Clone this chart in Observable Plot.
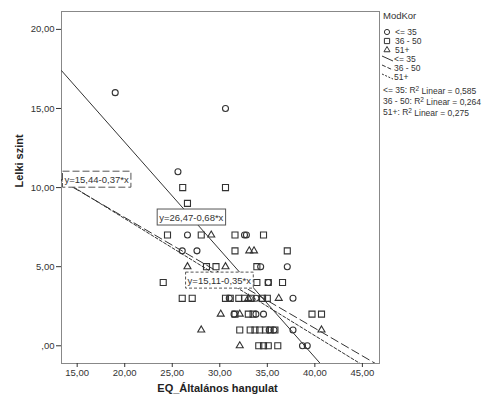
<!DOCTYPE html>
<html><head><meta charset="utf-8">
<script src="https://cdn.jsdelivr.net/npm/d3@7"></script>
<script src="https://cdn.jsdelivr.net/npm/@observablehq/plot@0.6"></script>
<style>
body{margin:0;background:#fff;}
#chart{position:relative;width:495px;height:399px;}
svg{font-family:"Liberation Sans",Arial,sans-serif;}
</style>
</head><body><div id="chart"></div>
<script>
// ---- data ----
const groups = ["<= 35", "36 - 50", "51+"];
const xTitle = "EQ_Általános hangulat";
const yTitle = "Lelki szint";
const legendTitle = "ModKor";

// <= 35 (circles)
const le35X = [19.0, 30.6, 25.6, 26.6, 32.6, 32.8, 26.05, 27.6, 34.3, 37.1, 35.1, 31.0, 33.8, 37.7, 31.5, 33.8, 34.6, 35.2, 35.7, 37.7, 38.7, 39.2];
const le35Y = [16, 15, 11, 7, 7, 7, 6, 6, 5, 5, 4, 3, 3, 3, 2, 2, 2, 1, 1, 1, 0, 0];
// 36 - 50 (squares)
const m36X = [26.6, 26.1, 30.6, 24.5, 28.05, 31.6, 34.6, 31.6, 37.1, 28.6, 29.6, 33.9, 24.05, 33.9, 35.1, 36.6, 26.05, 27.1, 30.6, 31.1, 32.0, 32.6, 33.3, 34.5, 35.0, 31.6, 33.0, 33.5, 39.7, 40.7, 32.1, 33.2, 33.7, 34.2, 34.8, 35.3, 35.8, 34.1, 34.6, 35.1, 36.1];
const m36Y = [9, 10, 10, 7, 7, 7, 7, 6, 6, 5, 5, 5, 4, 4, 4, 4, 3, 3, 3, 3, 3, 3, 3, 3, 3, 2, 2, 2, 2, 2, 1, 1, 1, 1, 1, 1, 1, 0, 0, 0, 0];
// 51+ (triangles)
const p51X = [29.1, 33.1, 33.6, 26.6, 30.6, 33.0, 36.2, 30.1, 32.1, 28.05, 40.7, 32.1];
const p51Y = [7, 6, 6, 5, 5, 3, 3, 2, 2, 1, 1, 0];

// linear fits per group
const fitGroups = ["<= 35", "36 - 50", "51+"];
const fitIntercepts = [26.47, 15.11, 15.44];
const fitSlopes = [-0.68, -0.35, -0.37];
const fitLabels = ["y=26,47-0,68*x", "y=15,11-0,35*x", "y=15,44-0,37*x"];
const r2Values = ["0,585", "0,264", "0,275"];

const xTicks = [15, 20, 25, 30, 35, 40, 45];
const yTicks = [0, 5, 10, 15, 20];

// ---- build tables ----
const groupX = [le35X, m36X, p51X];
const groupY = [le35Y, m36Y, p51Y];
const pointsBy = groups.map((g, k) => groupX[k].map((x, i) => ({x, y: groupY[k][i], g})));
const xDomain = [13.35, 46.8];
const yDomain = [-1.12, 21.13];
const fitRows = fitGroups.map((g, i) => xDomain.map(x => ({g, x, y: fitIntercepts[i] + fitSlopes[i] * x})));

const fmt = d => d === 0 ? ",00" : d.toFixed(2).replace(".", ",");
const dash = ["none", "8,4", "3,2"];
const ink = "#333";
const symR = [3.0, 3.4, 2.6];

// label placement (layout)
const labelPos = [
  {i: 0, x: 27.0, anchor: "middle", dx: 0, dy: 0, box: "none"},
  {i: 1, x: 29.95, anchor: "middle", dx: 0, dy: 8, box: "3,2"},
  {i: 2, x: 13.35, anchor: "start", dx: 3, dy: 0, box: "7,3"}
];

const marks = [
  Plot.frame({stroke: "#888"}),
  Plot.axisY(yTicks, {tickFormat: fmt, tickSize: 5, tickPadding: 2, fontSize: 9.5, fill: ink, stroke: ink, label: null}),
  Plot.axisX(xTicks, {tickFormat: fmt, tickSize: 4, tickPadding: 2, fontSize: 9.5, fill: ink, stroke: ink, label: null}),
  ...pointsBy.map((pts, k) => Plot.dot(pts, {x: "x", y: "y", symbol: "g", r: symR[k], stroke: ink, strokeWidth: 1.1, fill: "none"})),
  ...fitRows.map((rows, i) => Plot.line(rows, {x: "x", y: "y", stroke: ink, strokeWidth: 1, strokeDasharray: dash[i], clip: true})),
  ...labelPos.map(p => Plot.text([fitLabels[p.i]], {
    x: () => p.x,
    y: () => fitIntercepts[p.i] + fitSlopes[p.i] * p.x,
    text: d => d, textAnchor: p.anchor, dx: p.dx, dy: p.dy,
    fontSize: 9.5, fill: ink
  })),
  Plot.text([xTitle], {frameAnchor: "bottom", dy: 28, dx: -3, text: d => d, fontSize: 11, fontWeight: "bold", fill: "#222"}),
  Plot.text([yTitle], {frameAnchor: "left", dx: -42, rotate: -90, text: d => d, fontSize: 11, fontWeight: "bold", fill: "#222"})
];

const chart = Plot.plot({
  width: 495, height: 399,
  marginLeft: 61, marginRight: 116, marginTop: 11, marginBottom: 36,
  x: {domain: xDomain},
  y: {domain: yDomain},
  symbol: {domain: groups, range: ["circle", "square", "triangle"]},
  style: {fontFamily: "Liberation Sans, Arial, sans-serif", background: "#fff"},
  marks
});
document.getElementById("chart").appendChild(chart);
const svg = d3.select(chart);

// boxes behind fit labels
svg.selectAll("text").each(function() {
  const idx = fitLabels.indexOf(this.textContent);
  if (idx < 0) return;
  const p = labelPos.find(q => q.i === idx);
  const b = this.getBBox();
  d3.select(this.parentNode).insert("rect", () => this)
    .attr("x", b.x - 2).attr("y", b.y - 2.5)
    .attr("width", b.width + 4).attr("height", b.height + 5)
    .attr("transform", this.getAttribute("transform"))
    .attr("fill", "#fff").attr("stroke", "#555").attr("stroke-width", 1)
    .attr("stroke-dasharray", p.box);
});

// legend
const lg = svg.append("g").attr("font-size", 8.5).attr("fill", ink).attr("text-anchor", "start");
const lx = 385;
lg.append("text").attr("x", lx - 2).attr("y", 16).attr("dy", "0.35em").attr("font-size", 9.5).text(legendTitle);
const sym = [d3.symbolCircle, d3.symbolSquare, d3.symbolTriangle];
groups.forEach((g, i) => {
  const y = 32 + i * 9;
  lg.append("path").attr("d", d3.symbol(sym[i], Math.PI * symR[i] * symR[i] * 0.75)())
    .attr("transform", `translate(${lx + 2},${y})`).attr("fill", "none").attr("stroke", ink);
  lg.append("text").attr("x", lx + 10).attr("y", y).attr("dy", "0.35em").text(g);
});
groups.forEach((g, i) => {
  const y = 59 + i * 9;
  lg.append("line").attr("x1", lx - 3).attr("y1", y - 3).attr("x2", lx + 8).attr("y2", y + 2)
    .attr("stroke", ink).attr("stroke-dasharray", dash[i] === "none" ? null : (i === 1 ? "4,2" : "2,1.5"));
  lg.append("text").attr("x", lx + 9).attr("y", y).attr("dy", "0.35em").text(g);
});
groups.forEach((g, i) => {
  const y = 90 + i * 11;
  const t = lg.append("text").attr("x", lx - 2).attr("y", y).attr("dy", "0.35em");
  t.append("tspan").text(g + ": R");
  t.append("tspan").attr("dy", "-0.35em").attr("font-size", 6.5).text("2");
  t.append("tspan").attr("dy", "0.35em").text(" Linear = " + r2Values[i]);
});
</script>
</body></html>
